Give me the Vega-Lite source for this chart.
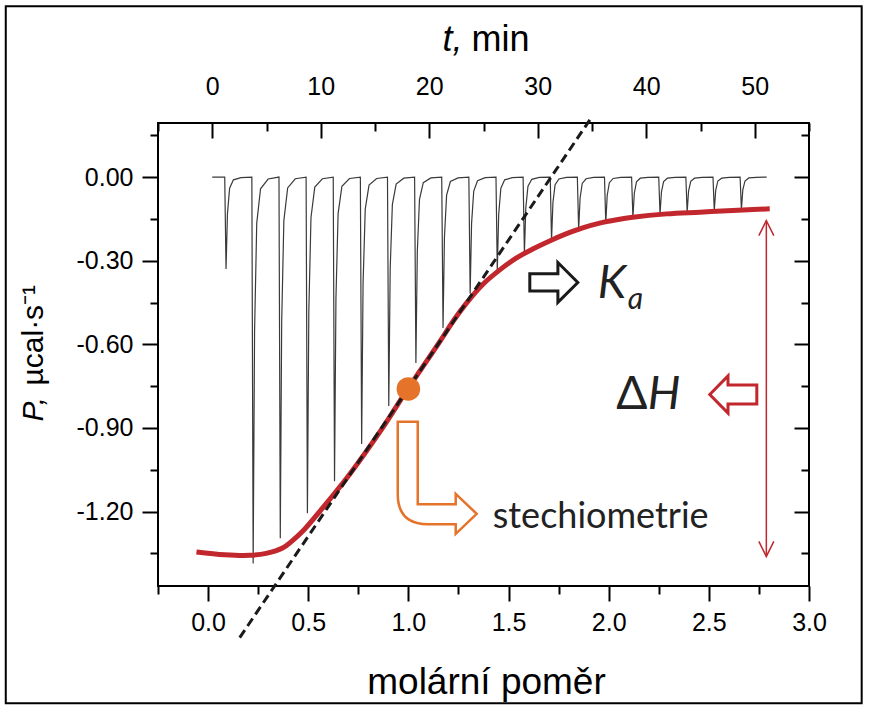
{
  "$schema": "https://vega.github.io/schema/vega-lite/v6.json",
  "width": 651,
  "height": 463,
  "autosize": {"type": "none"},
  "padding": {"left": 158, "top": 123, "right": 61, "bottom": 121},
  "background": "white",
  "config": {
    "view": {"stroke": "black", "strokeWidth": 2, "fill": "white"},
    "axis": {
      "labelFont": "Liberation Sans",
      "titleFont": "Liberation Sans",
      "labelColor": "black",
      "titleColor": "black",
      "tickColor": "black",
      "tickWidth": 2,
      "domain": false,
      "grid": false,
      "titleFontWeight": "normal",
      "labelFontSize": 25,
      "titleFontSize": 34,
      "labelFlush": false,
      "labelOverlap": false
    }
  },
  "resolve": {"scale": {"x": "independent", "y": "independent"}},
  "layer": [
    {
      "data": {"values": [
        {"t":0,"p":0},
        {"t":1.15,"p":0},{"t":1.27,"p":-0.33},{"t":1.40,"p":-0.132},{"t":1.60,"p":-0.04},{"t":1.95,"p":-0.01},{"t":2.65,"p":-0.002},
        {"t":3.65,"p":0},{"t":3.77,"p":-1.386},{"t":3.90,"p":-0.554},{"t":4.10,"p":-0.166},{"t":4.45,"p":-0.042},{"t":5.15,"p":-0.007},
        {"t":6.15,"p":0},{"t":6.27,"p":-1.296},{"t":6.40,"p":-0.518},{"t":6.60,"p":-0.156},{"t":6.95,"p":-0.039},{"t":7.65,"p":-0.006},
        {"t":8.65,"p":0},{"t":8.77,"p":-1.206},{"t":8.90,"p":-0.482},{"t":9.10,"p":-0.145},{"t":9.45,"p":-0.036},{"t":10.15,"p":-0.006},
        {"t":11.15,"p":0},{"t":11.27,"p":-1.091},{"t":11.40,"p":-0.436},{"t":11.60,"p":-0.131},{"t":11.95,"p":-0.033},{"t":12.65,"p":-0.005},
        {"t":13.65,"p":0},{"t":13.77,"p":-0.958},{"t":13.90,"p":-0.383},{"t":14.10,"p":-0.115},{"t":14.45,"p":-0.029},{"t":15.15,"p":-0.005},
        {"t":16.15,"p":0},{"t":16.27,"p":-0.821},{"t":16.40,"p":-0.328},{"t":16.60,"p":-0.099},{"t":16.95,"p":-0.025},{"t":17.65,"p":-0.004},
        {"t":18.65,"p":0},{"t":18.77,"p":-0.667},{"t":18.90,"p":-0.267},{"t":19.10,"p":-0.08},{"t":19.45,"p":-0.02},{"t":20.15,"p":-0.003},
        {"t":21.15,"p":0},{"t":21.27,"p":-0.541},{"t":21.40,"p":-0.216},{"t":21.60,"p":-0.065},{"t":21.95,"p":-0.016},{"t":22.65,"p":-0.003},
        {"t":23.65,"p":0},{"t":23.77,"p":-0.418},{"t":23.90,"p":-0.167},{"t":24.10,"p":-0.05},{"t":24.45,"p":-0.013},{"t":25.15,"p":-0.002},
        {"t":26.15,"p":0},{"t":26.27,"p":-0.336},{"t":26.40,"p":-0.134},{"t":26.60,"p":-0.04},{"t":26.95,"p":-0.01},{"t":27.65,"p":-0.002},
        {"t":28.65,"p":0},{"t":28.77,"p":-0.275},{"t":28.90,"p":-0.11},{"t":29.10,"p":-0.033},{"t":29.45,"p":-0.008},{"t":30.15,"p":-0.001},
        {"t":31.15,"p":0},{"t":31.27,"p":-0.228},{"t":31.40,"p":-0.091},{"t":31.60,"p":-0.027},{"t":31.95,"p":-0.007},{"t":32.65,"p":-0.001},
        {"t":33.65,"p":0},{"t":33.77,"p":-0.19},{"t":33.90,"p":-0.076},{"t":34.10,"p":-0.023},{"t":34.45,"p":-0.006},{"t":35.15,"p":-0.001},
        {"t":36.15,"p":0},{"t":36.27,"p":-0.165},{"t":36.40,"p":-0.066},{"t":36.60,"p":-0.02},{"t":36.95,"p":-0.005},{"t":37.65,"p":-0.001},
        {"t":38.65,"p":0},{"t":38.77,"p":-0.145},{"t":38.90,"p":-0.058},{"t":39.10,"p":-0.017},{"t":39.45,"p":-0.004},{"t":40.15,"p":-0.001},
        {"t":41.15,"p":0},{"t":41.27,"p":-0.133},{"t":41.40,"p":-0.053},{"t":41.60,"p":-0.016},{"t":41.95,"p":-0.004},{"t":42.65,"p":-0.001},
        {"t":43.65,"p":0},{"t":43.77,"p":-0.126},{"t":43.90,"p":-0.05},{"t":44.10,"p":-0.015},{"t":44.45,"p":-0.004},{"t":45.15,"p":-0.001},
        {"t":46.15,"p":0},{"t":46.27,"p":-0.12},{"t":46.40,"p":-0.048},{"t":46.60,"p":-0.014},{"t":46.95,"p":-0.004},{"t":47.65,"p":-0.001},
        {"t":48.65,"p":0},{"t":48.77,"p":-0.116},{"t":48.90,"p":-0.046},{"t":49.10,"p":-0.014},{"t":49.45,"p":-0.003},{"t":50.15,"p":-0.001},
        {"t":51.1,"p":0}
      ]},
      "mark": {"type": "line", "color": "#3a3a3a", "strokeWidth": 1.2, "clip": true},
      "encoding": {
        "x": {
          "field": "t", "type": "quantitative",
          "scale": {"domain": [-5, 55], "nice": false, "zero": false},
          "axis": {
            "orient": "top",
            "values": [-5, 0, 5, 10, 15, 20, 25, 30, 35, 40, 45, 50, 55],
            "labelExpr": "datum.value % 10 == 0 ? format(datum.value, 'd') : ''",
            "tickSize": {"condition": {"test": "datum.value % 10 == 0", "value": -15}, "value": -8},
            "labelPadding": 39,
            "title": "min",
            "titleFontSize": 36,
            "titleAlign": "left",
            "titleBaseline": "alphabetic",
            "titleX": 313,
            "titleY": -73
          }
        },
        "y": {
          "field": "p", "type": "quantitative",
          "scale": {"domain": [-1.467, 0.194], "nice": false, "zero": false},
          "axis": {
            "orient": "left",
            "values": [0.15, 0, -0.15, -0.3, -0.45, -0.6, -0.75, -0.9, -1.05, -1.2, -1.35],
            "labelExpr": "abs(datum.value/0.3 - round(datum.value/0.3)) < 0.001 ? replace(format(datum.value, '.2f'), '−', '-') : ''",
            "tickSize": {"condition": {"test": "abs(datum.value/0.3 - round(datum.value/0.3)) < 0.001", "value": 16}, "value": 8},
            "labelPadding": 9,
            "title": "µcal·s⁻¹",
            "titleFontSize": 30,
            "titleAngle": -90,
            "titleAlign": "left",
            "titleBaseline": "alphabetic",
            "titleX": -116,
            "titleY": 262
          }
        }
      }
    },
    {
      "encoding": {
        "x": {
          "field": "r", "type": "quantitative",
          "scale": {"domain": [-0.25, 3.0], "nice": false, "zero": false},
          "axis": {
            "orient": "bottom",
            "values": [-0.25, 0, 0.25, 0.5, 0.75, 1, 1.25, 1.5, 1.75, 2, 2.25, 2.5, 2.75, 3],
            "labelExpr": "abs(datum.value*2 - round(datum.value*2)) < 0.001 ? format(datum.value, '.1f') : ''",
            "tickSize": {"condition": {"test": "abs(datum.value*2 - round(datum.value*2)) < 0.001", "value": 15}, "value": 8},
            "labelPadding": 9,
            "title": "molární poměr",
            "titleFontSize": 37,
            "titleAlign": "center",
            "titleBaseline": "alphabetic",
            "titleX": 328,
            "titleY": 107
          }
        },
        "y": {
          "field": "p", "type": "quantitative",
          "scale": {"domain": [-1.467, 0.194], "nice": false, "zero": false},
          "axis": {
            "orient": "right",
            "values": [0.15, 0, -0.15, -0.3, -0.45, -0.6, -0.75, -0.9, -1.05, -1.2, -1.35],
            "labels": false,
            "tickSize": {"condition": {"test": "abs(datum.value/0.3 - round(datum.value/0.3)) < 0.001", "value": -15}, "value": -8},
            "title": null
          }
        }
      },
      "layer": [
        {
          "data": {"values": [{"r": -1.01, "r2": 3.263, "p": 0.613, "p2": -1.888}]},
          "mark": {"type": "rect", "fill": "transparent", "stroke": "black", "strokeWidth": 2, "clip": false},
          "encoding": {"x2": {"field": "r2"}, "y2": {"field": "p2"}}
        },
        {
          "data": {"values": [
            {"r":-0.058,"p":-1.345},{"r":0.083,"p":-1.355},{"r":0.208,"p":-1.357},{"r":0.29,"p":-1.350},
            {"r":0.372,"p":-1.331},{"r":0.42,"p":-1.305},{"r":0.472,"p":-1.271},{"r":0.572,"p":-1.187},
            {"r":0.707,"p":-1.066},{"r":0.872,"p":-0.899},{"r":0.997,"p":-0.760},{"r":1.157,"p":-0.590},
            {"r":1.23,"p":-0.510},{"r":1.290,"p":-0.452},{"r":1.37,"p":-0.386},{"r":1.458,"p":-0.332},
            {"r":1.54,"p":-0.290},{"r":1.621,"p":-0.258},{"r":1.705,"p":-0.229},{"r":1.790,"p":-0.203},
            {"r":1.87,"p":-0.182},{"r":1.955,"p":-0.165},{"r":2.04,"p":-0.153},{"r":2.12,"p":-0.144},
            {"r":2.29,"p":-0.132},{"r":2.455,"p":-0.126},{"r":2.619,"p":-0.120},{"r":2.804,"p":-0.114}
          ]},
          "mark": {"type": "line", "color": "#C1272D", "strokeWidth": 5, "interpolate": "catmull-rom", "strokeCap": "butt"}
        },
        {
          "data": {"values": [{"r": 0.158, "p": -1.652}, {"r": 1.915, "p": 0.215}]},
          "mark": {"type": "line", "color": "#1a1a1a", "strokeWidth": 3, "strokeDash": [9, 5], "clip": false}
        },
        {
          "data": {"values": [{"r": 1.0, "p": -0.76}]},
          "mark": {"type": "point", "shape": "circle", "filled": true, "size": 556, "color": "#E5732A", "opacity": 1}
        },
        {
          "data": {"values": [{"r": 1.726, "p": -0.378}]},
          "mark": {"type": "point", "shape": "M -1 -0.36 L 0.17 -0.36 L 0.17 -0.83 L 1 0 L 0.17 0.83 L 0.17 0.36 L -1 0.36 Z", "filled": false, "size": 2304, "color": "#1a1a1a", "strokeWidth": 3, "opacity": 1}
        },
        {
          "data": {"values": [{"r": 2.622, "p": -0.780}]},
          "mark": {"type": "point", "shape": "M -0.98 0 L -0.22 -0.77 L -0.22 -0.4 L 0.98 -0.4 L 0.98 0.4 L -0.22 0.4 L -0.22 0.77 Z", "filled": false, "size": 2304, "color": "#C1272D", "strokeWidth": 3, "opacity": 1}
        },
        {
          "data": {"values": [{"r": 1.144, "p": -1.079}]},
          "mark": {"type": "point", "shape": "M -0.705 -1 L -0.348 -1 L -0.348 0.47 L 0.33 0.47 L 0.33 0.286 L 0.705 0.643 L 0.33 1 L 0.33 0.827 L -0.17 0.827 Q -0.705 0.827 -0.705 0.29 Z", "filled": false, "size": 12544, "color": "#E5732A", "strokeWidth": 2.5, "opacity": 1}
        },
        {
          "data": {"values": [{"r": 2.787, "p": -0.156, "p2": -1.361}]},
          "mark": {"type": "rule", "color": "#C1272D", "strokeWidth": 1.5},
          "encoding": {"y2": {"field": "p2"}}
        },
        {
          "data": {"values": [{"r": 2.787, "p": -0.156}]},
          "mark": {"type": "point", "shape": "M -0.5 1 L 0 0 L 0.5 1", "filled": false, "size": 900, "color": "#C1272D", "strokeWidth": 1.5, "opacity": 1}
        },
        {
          "data": {"values": [{"r": 2.787, "p": -1.361}]},
          "mark": {"type": "point", "shape": "M -0.5 -1 L 0 0 L 0.5 -1", "filled": false, "size": 900, "color": "#C1272D", "strokeWidth": 1.5, "opacity": 1}
        },
        {
          "data": {"values": [{"r": 1.945, "p": -0.433, "label": "K"}]},
          "mark": {"type": "text", "align": "left", "baseline": "alphabetic", "font": "Lato", "fontStyle": "italic", "fontSize": 46, "color": "#222222"},
          "encoding": {"text": {"field": "label"}}
        },
        {
          "data": {"values": [{"r": 2.095, "p": -0.475, "label": "a"}]},
          "mark": {"type": "text", "align": "left", "baseline": "alphabetic", "font": "Lato", "fontStyle": "italic", "fontSize": 30, "color": "#222222"},
          "encoding": {"text": {"field": "label"}}
        },
        {
          "data": {"values": [{"r": 2.038, "p": -0.833, "label": "Δ"}]},
          "mark": {"type": "text", "align": "left", "baseline": "alphabetic", "font": "Lato", "fontSize": 46, "color": "#222222"},
          "encoding": {"text": {"field": "label"}}
        },
        {
          "data": {"values": [{"r": 2.195, "p": -0.833, "label": "H"}]},
          "mark": {"type": "text", "align": "left", "baseline": "alphabetic", "font": "Lato", "fontStyle": "italic", "fontSize": 46, "color": "#222222"},
          "encoding": {"text": {"field": "label"}}
        },
        {
          "data": {"values": [{"r": 1.421, "p": -1.259, "label": "stechiometrie"}]},
          "mark": {"type": "text", "align": "left", "baseline": "alphabetic", "font": "Lato", "fontSize": 36, "color": "#222222"},
          "encoding": {"text": {"field": "label"}}
        }
      ]
    },
    {
      "data": {"values": [{"d": 0}]},
      "mark": {"type": "point", "opacity": 0},
      "encoding": {
        "x": {
          "field": "d", "type": "quantitative",
          "axis": {"orient": "top", "ticks": false, "labels": false, "domain": false, "title": "t,", "titleFontSize": 36, "titleFontStyle": "italic", "titleAlign": "right", "titleBaseline": "alphabetic", "titleX": 304, "titleY": -73}
        },
        "y": {
          "field": "d", "type": "quantitative",
          "axis": {"orient": "left", "ticks": false, "labels": false, "domain": false, "title": "P,", "titleFontSize": 30, "titleFontStyle": "italic", "titleAngle": -90, "titleAlign": "left", "titleBaseline": "alphabetic", "titleX": -116, "titleY": 298}
        }
      }
    }
  ]
}
